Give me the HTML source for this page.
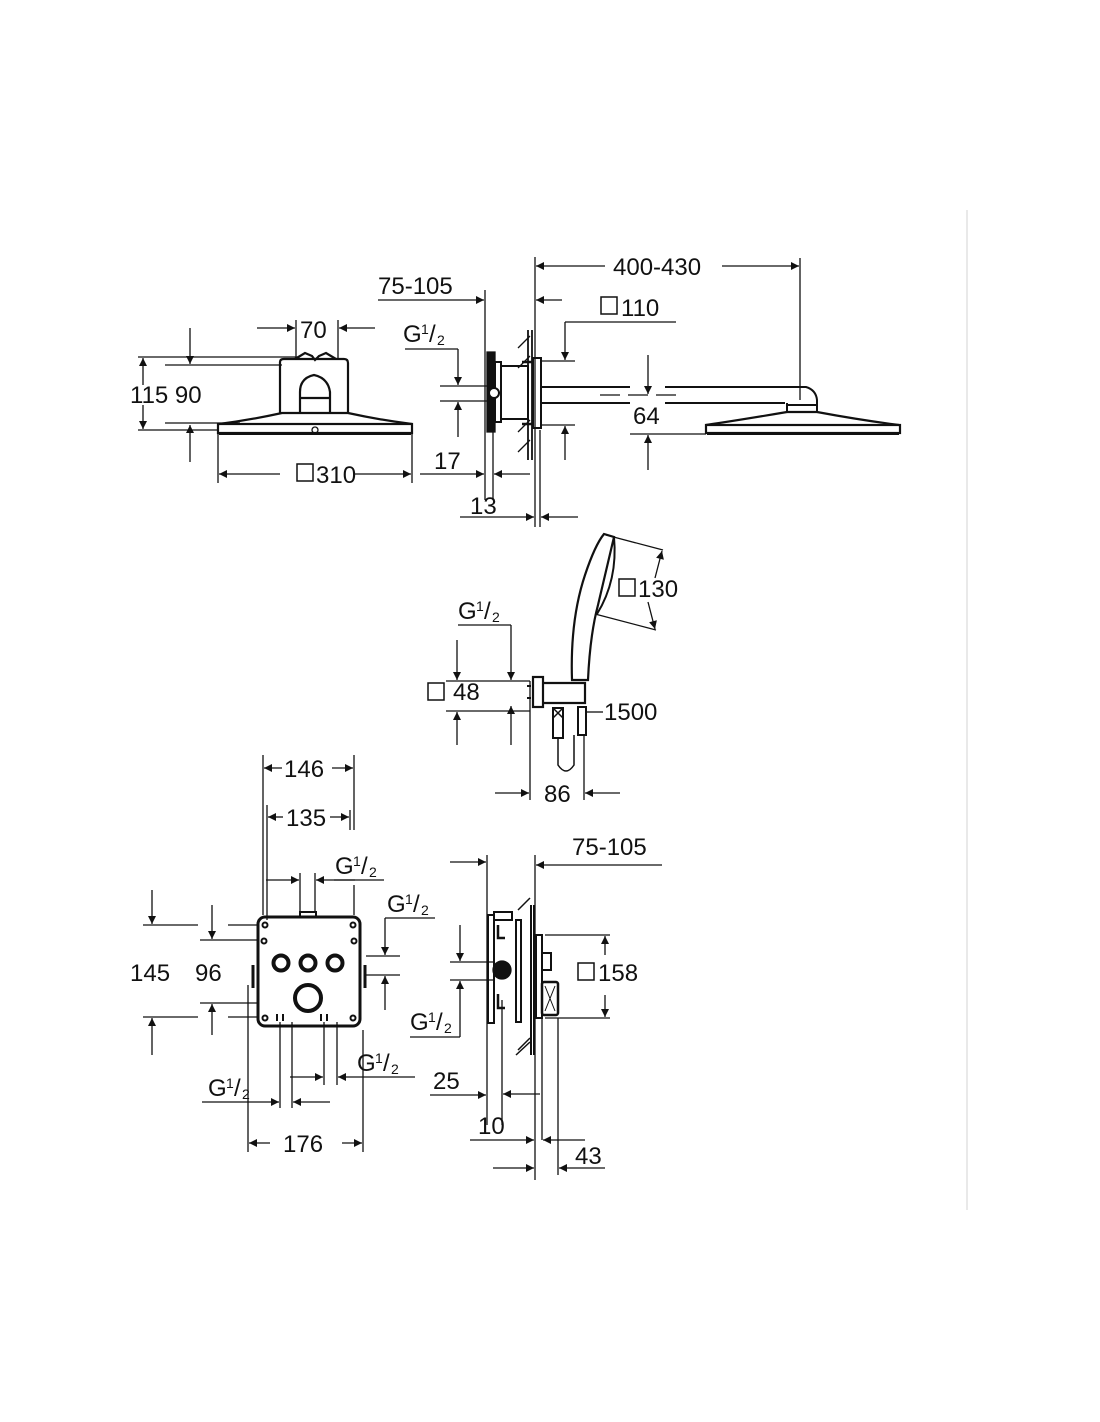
<!DOCTYPE html>
<html><head><meta charset="utf-8"><style>
html,body{margin:0;padding:0;background:#fff;}
svg{display:block;}
text{font-family:"Liberation Sans",sans-serif;font-size:24px;fill:#111;}
.s{font-size:14px;}
</style></head><body>
<svg width="1100" height="1422" viewBox="0 0 1100 1422" xmlns="http://www.w3.org/2000/svg">
<defs>
<marker id="a" viewBox="0 0 10 10" refX="10" refY="5" markerWidth="14" markerHeight="8" markerUnits="userSpaceOnUse" orient="auto"><path d="M0,0L10,5L0,10z" fill="#111"/></marker>
</defs>
<g stroke="#111" stroke-width="1.3" fill="none">
<line x1="967" y1="210" x2="967" y2="1210" stroke="#ddd"/>

<line x1="535" y1="257" x2="535" y2="527"/>
<line x1="800" y1="258" x2="800" y2="400"/>
<line x1="605" y1="266" x2="536" y2="266" marker-end="url(#a)"/>
<line x1="722" y1="266" x2="799" y2="266" marker-end="url(#a)"/>
<line x1="378" y1="300" x2="484" y2="300" marker-end="url(#a)"/>
<line x1="485" y1="290" x2="485" y2="500"/>
<line x1="562" y1="300" x2="536" y2="300" marker-end="url(#a)"/>
<line x1="676" y1="322" x2="565" y2="322"/>
<line x1="565" y1="322" x2="565" y2="360" marker-end="url(#a)"/>
<line x1="540" y1="361" x2="575" y2="361"/>
<line x1="540" y1="425" x2="575" y2="425"/>
<line x1="565" y1="460" x2="565" y2="426" marker-end="url(#a)"/>
<line x1="190" y1="328" x2="190" y2="364" marker-end="url(#a)"/>
<line x1="190" y1="462" x2="190" y2="425" marker-end="url(#a)"/>
<line x1="138" y1="357" x2="300" y2="357"/>
<line x1="165" y1="365" x2="282" y2="365"/>
<line x1="165" y1="423" x2="240" y2="423"/>
<line x1="138" y1="430" x2="217" y2="430"/>
<line x1="143" y1="385" x2="143" y2="358" marker-end="url(#a)"/>
<line x1="143" y1="405" x2="143" y2="429" marker-end="url(#a)"/>
<line x1="296" y1="320" x2="296" y2="358"/>
<line x1="338" y1="320" x2="338" y2="358"/>
<line x1="257" y1="328" x2="295" y2="328" marker-end="url(#a)"/>
<line x1="375" y1="328" x2="339" y2="328" marker-end="url(#a)"/>
<path d="M280,413 V362 Q280,359 284,359 H344 Q348,359 348,363 V413" stroke-width="2.2"/>
<path d="M295,359 L305,353 L312,356 L315,360 L319,356 L326,353 L336,359" stroke-width="2.2"/>
<path d="M300,412 V392 Q300,378 314,375 Q328,378 330,392 V412 M300,398 H330" stroke-width="2.2"/>
<path d="M219,424 Q250,420 282,413 H348 Q380,420 412,424" stroke-width="2.2"/>
<rect x="218" y="424" width="194" height="9" stroke-width="2.2"/>
<line x1="219" y1="434" x2="411" y2="434" stroke-width="2"/>
<circle cx="315" cy="430" r="3"/>
<line x1="218" y1="433" x2="218" y2="483"/>
<line x1="412" y1="433" x2="412" y2="483"/>
<line x1="280" y1="474" x2="219" y2="474" marker-end="url(#a)"/>
<line x1="355" y1="474" x2="411" y2="474" marker-end="url(#a)"/>
<line x1="405" y1="349" x2="458" y2="349"/>
<line x1="458" y1="349" x2="458" y2="385" marker-end="url(#a)"/>
<line x1="440" y1="386" x2="495" y2="386"/>
<line x1="440" y1="401" x2="495" y2="401"/>
<line x1="458" y1="437" x2="458" y2="402" marker-end="url(#a)"/>
<path d="M487,352 L495,352 L495,432 L487,432 Z" fill="#111"/>
<rect x="495" y="362" width="6" height="60" stroke-width="2"/>
<rect x="501" y="366" width="27" height="53" stroke-width="2"/>
<circle cx="494" cy="393" r="5" fill="#fff" stroke-width="2"/>
<line x1="528" y1="330" x2="528" y2="460" stroke-width="1.8"/>
<line x1="532" y1="330" x2="532" y2="460" stroke-width="1.8"/>
<path d="M518,348 L530,336 M518,368 L530,356 M518,432 L530,420 M518,452 L530,440"/>
<rect x="533" y="358" width="8" height="70" stroke-width="2"/>
<line x1="522" y1="362" x2="533" y2="362" stroke-width="2.5"/>
<line x1="522" y1="424" x2="533" y2="424" stroke-width="2.5"/>
<line x1="541" y1="387" x2="630" y2="387" stroke-width="2"/>
<line x1="541" y1="403" x2="630" y2="403" stroke-width="2"/>
<line x1="665" y1="387" x2="785" y2="387" stroke-width="2"/>
<line x1="665" y1="403" x2="785" y2="403" stroke-width="2"/>
<path d="M785,387 H806 Q816,390 817,400 V412 H787 V403 M787,405 H817" stroke-width="2"/>
<path d="M706,425 Q740,420 787,412 H817 Q860,420 899,425" stroke-width="2.2"/>
<rect x="706" y="425" width="194" height="8" stroke-width="2.2"/>
<line x1="707" y1="434" x2="899" y2="434" stroke-width="2"/>
<line x1="600" y1="395" x2="680" y2="395" stroke-dasharray="20 8"/>
<line x1="648" y1="355" x2="648" y2="394" marker-end="url(#a)"/>
<line x1="648" y1="470" x2="648" y2="435" marker-end="url(#a)"/>
<line x1="630" y1="434" x2="706" y2="434"/>
<line x1="493" y1="430" x2="493" y2="500"/>
<line x1="420" y1="474" x2="484" y2="474" marker-end="url(#a)"/>
<line x1="530" y1="474" x2="494" y2="474" marker-end="url(#a)"/>
<line x1="540" y1="430" x2="540" y2="527"/>
<line x1="460" y1="517" x2="534" y2="517" marker-end="url(#a)"/>
<line x1="578" y1="517" x2="541" y2="517" marker-end="url(#a)"/>

<path d="M572,680 Q570,620 585,575 Q595,545 604,534 L614,537 Q605,575 598,605 Q590,635 588,680 Z" stroke-width="2.2"/>
<path d="M614,537 Q618,580 597,614" stroke-width="2"/>
<line x1="606" y1="535" x2="663" y2="550"/>
<line x1="595" y1="614" x2="656" y2="630"/>
<line x1="655" y1="578" x2="662" y2="551" marker-end="url(#a)"/>
<line x1="648" y1="602" x2="655" y2="629" marker-end="url(#a)"/>
<line x1="458" y1="625" x2="511" y2="625"/>
<line x1="511" y1="625" x2="511" y2="680" marker-end="url(#a)"/>
<path d="M511,745 V706" marker-end="url(#a)"/>
<line x1="446" y1="681" x2="530" y2="681"/>
<line x1="446" y1="711" x2="530" y2="711"/>
<line x1="457" y1="640" x2="457" y2="680" marker-end="url(#a)"/>
<line x1="457" y1="745" x2="457" y2="712" marker-end="url(#a)"/>
<rect x="533" y="677" width="10" height="30" stroke-width="2.2"/>
<path d="M531,686 H527 M531,698 H527" stroke-width="2"/>
<path d="M543,683 H585 V703 H543" stroke-width="2.2"/>
<rect x="553" y="708" width="10" height="30" stroke-width="2"/>
<path d="M553,708 L563,718 M563,708 L553,718" stroke-width="1.5"/>
<rect x="578" y="707" width="8" height="28" stroke-width="2"/>
<path d="M558,738 V765 Q566,777 574,765 V735" stroke-width="1.5"/>
<line x1="587" y1="712" x2="603" y2="712"/>
<line x1="530" y1="681" x2="530" y2="800"/>
<line x1="584" y1="735" x2="584" y2="800"/>
<line x1="495" y1="793" x2="529" y2="793" marker-end="url(#a)"/>
<line x1="620" y1="793" x2="585" y2="793" marker-end="url(#a)"/>

<line x1="263" y1="755" x2="263" y2="915"/>
<line x1="354" y1="755" x2="354" y2="830"/>
<line x1="354" y1="885" x2="354" y2="915"/>
<line x1="267" y1="805" x2="267" y2="920"/>
<line x1="350" y1="810" x2="350" y2="830"/>
<line x1="282" y1="768" x2="264" y2="768" marker-end="url(#a)"/>
<line x1="332" y1="768" x2="353" y2="768" marker-end="url(#a)"/>
<line x1="283" y1="817" x2="268" y2="817" marker-end="url(#a)"/>
<line x1="330" y1="817" x2="349" y2="817" marker-end="url(#a)"/>
<line x1="300" y1="873" x2="300" y2="912"/>
<line x1="315" y1="873" x2="315" y2="912"/>
<rect x="300" y="912" width="16" height="5" stroke-width="2"/>
<line x1="266" y1="880" x2="299" y2="880" marker-end="url(#a)"/>
<line x1="355" y1="880" x2="316" y2="880" marker-end="url(#a)"/>
<line x1="334" y1="880" x2="384" y2="880"/>
<rect x="258" y="917" width="102" height="109" rx="7" stroke-width="3"/>
<circle cx="281" cy="963" r="7.5" stroke-width="4"/>
<circle cx="308" cy="963" r="7.5" stroke-width="4"/>
<circle cx="335" cy="963" r="7.5" stroke-width="4"/>
<circle cx="308" cy="998" r="13" stroke-width="4"/>
<circle cx="265" cy="925" r="2.5" stroke-width="2"/><circle cx="353" cy="925" r="2.5" stroke-width="2"/>
<circle cx="264" cy="941" r="2.5" stroke-width="2"/><circle cx="354" cy="941" r="2.5" stroke-width="2"/>
<circle cx="265" cy="1018" r="2.5" stroke-width="2"/><circle cx="353" cy="1018" r="2.5" stroke-width="2"/>
<line x1="253" y1="965" x2="253" y2="988" stroke-width="3"/>
<line x1="365" y1="965" x2="365" y2="988" stroke-width="3"/>
<line x1="143" y1="925" x2="198" y2="925"/>
<line x1="228" y1="925" x2="258" y2="925"/>
<line x1="200" y1="940" x2="258" y2="940"/>
<line x1="200" y1="1003" x2="258" y2="1003"/>
<line x1="143" y1="1017" x2="198" y2="1017"/>
<line x1="228" y1="1017" x2="258" y2="1017"/>
<line x1="152" y1="890" x2="152" y2="924" marker-end="url(#a)"/>
<line x1="152" y1="1055" x2="152" y2="1018" marker-end="url(#a)"/>
<line x1="212" y1="905" x2="212" y2="939" marker-end="url(#a)"/>
<line x1="212" y1="1035" x2="212" y2="1004" marker-end="url(#a)"/>
<line x1="435" y1="918" x2="385" y2="918"/>
<line x1="385" y1="918" x2="385" y2="955" marker-end="url(#a)"/>
<line x1="366" y1="956" x2="400" y2="956"/>
<line x1="366" y1="975" x2="400" y2="975"/>
<line x1="385" y1="1010" x2="385" y2="976" marker-end="url(#a)"/>
<line x1="280" y1="1022" x2="280" y2="1108"/>
<line x1="292" y1="1022" x2="292" y2="1108"/>
<line x1="324" y1="1022" x2="324" y2="1085"/>
<line x1="337" y1="1022" x2="337" y2="1085"/>
<path d="M277,1014 V1021 M283,1014 V1021 M321,1014 V1021 M327,1014 V1021" stroke-width="2"/>
<line x1="202" y1="1102" x2="279" y2="1102" marker-end="url(#a)"/>
<line x1="330" y1="1102" x2="293" y2="1102" marker-end="url(#a)"/>
<line x1="290" y1="1077" x2="323" y2="1077" marker-end="url(#a)"/>
<line x1="415" y1="1077" x2="338" y2="1077" marker-end="url(#a)"/>
<line x1="248" y1="985" x2="248" y2="1152"/>
<line x1="363" y1="1030" x2="363" y2="1152"/>
<line x1="270" y1="1143" x2="249" y2="1143" marker-end="url(#a)"/>
<line x1="342" y1="1143" x2="362" y2="1143" marker-end="url(#a)"/>

<line x1="487" y1="855" x2="487" y2="1125"/>
<line x1="535" y1="855" x2="535" y2="1180"/>
<line x1="450" y1="862" x2="486" y2="862" marker-end="url(#a)"/>
<line x1="662" y1="865" x2="536" y2="865" marker-end="url(#a)"/>
<rect x="488" y="915" width="6" height="108" stroke-width="2"/>
<rect x="494" y="912" width="18" height="8" stroke-width="2"/>
<rect x="516" y="920" width="5" height="102" stroke-width="2"/>
<path d="M498,925 V938 H505 M498,994 V1008 H505" stroke-width="2.5"/>
<circle cx="502" cy="970" r="9" fill="#111"/>
<line x1="531" y1="905" x2="531" y2="1055" stroke-width="2"/>
<line x1="534" y1="905" x2="534" y2="1055" stroke-width="2"/>
<path d="M518,910 L530,898 M518,1050 L530,1038 M516,1055 L530,1042" stroke-width="1.5"/>
<rect x="536" y="935" width="6" height="83" stroke-width="2"/>
<rect x="542" y="953" width="9" height="17" stroke-width="2"/>
<rect x="542" y="982" width="16" height="33" rx="2" stroke-width="2.5"/>
<path d="M545,986 L555,1011 M555,986 L545,1011" stroke-width="1"/>
<line x1="545" y1="935" x2="610" y2="935"/>
<line x1="545" y1="1018" x2="610" y2="1018"/>
<line x1="605" y1="955" x2="605" y2="936" marker-end="url(#a)"/>
<line x1="605" y1="995" x2="605" y2="1017" marker-end="url(#a)"/>
<line x1="460" y1="925" x2="460" y2="961" marker-end="url(#a)"/>
<line x1="450" y1="962" x2="495" y2="962"/>
<line x1="450" y1="980" x2="495" y2="980"/>
<line x1="460" y1="1037" x2="460" y2="981" marker-end="url(#a)"/>
<line x1="410" y1="1037" x2="460" y2="1037"/>
<line x1="502" y1="1000" x2="502" y2="1125"/>
<line x1="542" y1="1000" x2="542" y2="1140"/>
<line x1="558" y1="1018" x2="558" y2="1175"/>
<line x1="430" y1="1095" x2="486" y2="1095" marker-end="url(#a)"/>
<line x1="540" y1="1094" x2="503" y2="1094" marker-end="url(#a)"/>
<line x1="470" y1="1140" x2="534" y2="1140" marker-end="url(#a)"/>
<line x1="585" y1="1140" x2="543" y2="1140" marker-end="url(#a)"/>
<line x1="493" y1="1168" x2="534" y2="1168" marker-end="url(#a)"/>
<line x1="605" y1="1168" x2="559" y2="1168" marker-end="url(#a)"/>
</g>

<g stroke="#111" stroke-width="1.5" fill="none">
<rect x="601" y="297" width="16" height="17"/>
<rect x="297" y="464" width="16" height="17"/>
<rect x="619" y="579" width="16" height="17"/>
<rect x="428" y="683" width="16" height="17"/>
<rect x="578" y="963" width="16" height="17"/>
</g>
<g>
<text x="613" y="275">400-430</text>
<text x="378" y="294">75-105</text>
<text x="621" y="316">110</text>
<text x="300" y="338">70</text>
<text x="403" y="342">G</text><text x="421" y="334" class="s">1</text><text x="429" y="342">/</text><text x="437" y="345" class="s">2</text>
<text x="130" y="403">115 90</text>
<text x="316" y="483">310</text>
<text x="633" y="424">64</text>
<text x="434" y="469">17</text>
<text x="470" y="514">13</text>
<text x="638" y="597">130</text>
<text x="458" y="619">G</text><text x="476" y="611" class="s">1</text><text x="484" y="619">/</text><text x="492" y="622" class="s">2</text>
<text x="453" y="700">48</text>
<text x="604" y="720">1500</text>
<text x="544" y="802">86</text>
<text x="284" y="777">146</text>
<text x="286" y="826">135</text>
<text x="335" y="874">G</text><text x="353" y="866" class="s">1</text><text x="361" y="874">/</text><text x="369" y="877" class="s">2</text>
<text x="387" y="912">G</text><text x="405" y="904" class="s">1</text><text x="413" y="912">/</text><text x="421" y="915" class="s">2</text>
<text x="130" y="981">145</text>
<text x="195" y="981">96</text>
<text x="357" y="1071">G</text><text x="375" y="1063" class="s">1</text><text x="383" y="1071">/</text><text x="391" y="1074" class="s">2</text>
<text x="208" y="1096">G</text><text x="226" y="1088" class="s">1</text><text x="234" y="1096">/</text><text x="242" y="1099" class="s">2</text>
<text x="283" y="1152">176</text>
<text x="572" y="855">75-105</text>
<text x="598" y="981">158</text>
<text x="410" y="1030">G</text><text x="428" y="1022" class="s">1</text><text x="436" y="1030">/</text><text x="444" y="1033" class="s">2</text>
<text x="433" y="1089">25</text>
<text x="478" y="1134">10</text>
<text x="575" y="1164">43</text>
</g>
</svg>
</body></html>
